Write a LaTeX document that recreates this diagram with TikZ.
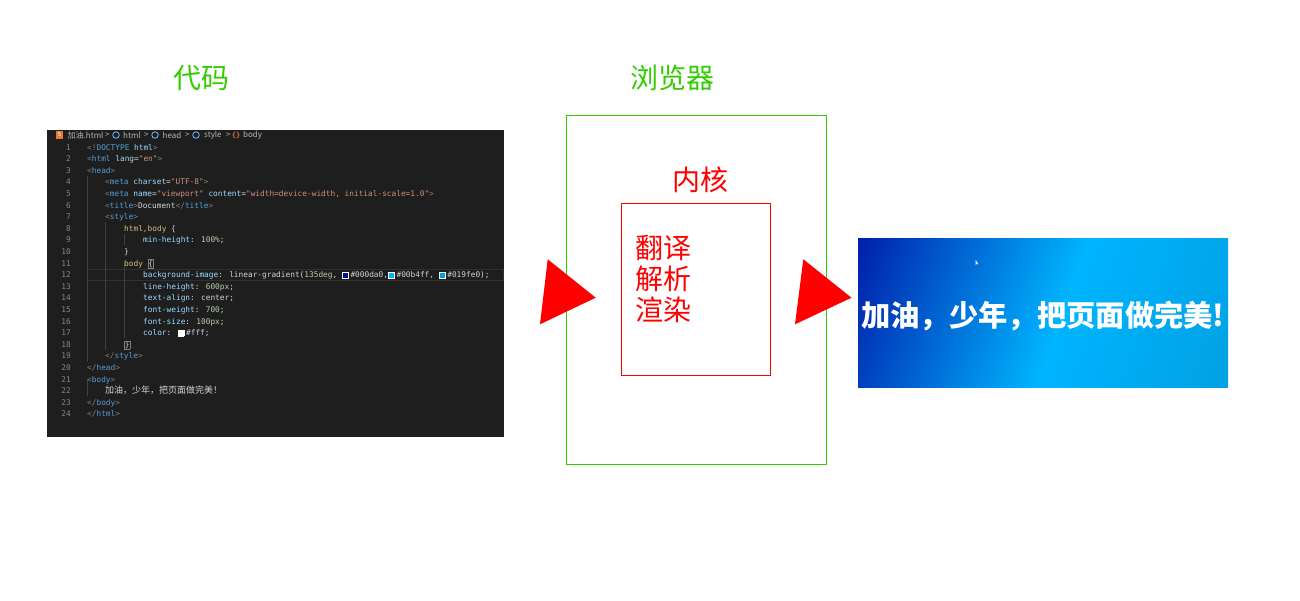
\documentclass[tikz,border=0pt]{standalone}
\usepackage{fontspec}
\setmainfont{Liberation Sans}
\newfontfamily\cjk{Noto Sans CJK SC}
\newfontfamily\codefont{DejaVu Sans Mono}
\definecolor{cgreen}{HTML}{33CC00}
\definecolor{cred}{HTML}{FF0000}
\definecolor{cbg}{HTML}{1E1E1E}
\definecolor{cpun}{HTML}{808080}
\definecolor{ctag}{HTML}{569CD6}
\definecolor{catt}{HTML}{9CDCFE}
\definecolor{cstr}{HTML}{CE9178}
\definecolor{ctxt}{HTML}{D4D4D4}
\definecolor{csel}{HTML}{D7BA7D}
\definecolor{cnum}{HTML}{B5CEA8}
\definecolor{clnum}{HTML}{858585}
\definecolor{cguide}{HTML}{404040}
\definecolor{chl}{HTML}{303030}
\definecolor{cicon}{HTML}{75BEFF}
\definecolor{corange}{HTML}{E37933}
\definecolor{c000da0}{HTML}{000DA0}
\definecolor{c00b4ff}{HTML}{00B4FF}
\definecolor{c019fe0}{HTML}{019FE0}
\pgfdeclarehorizontalshading{resgrad}{100bp}{color(0bp)=(c000da0); color(14bp)=(c000da0); color(52.8bp)=(c00b4ff); color(85bp)=(c019fe0); color(100bp)=(c019fe0)}
\newcommand\kPun[1]{\textcolor{cpun}{#1}}
\newcommand\kTag[1]{\textcolor{ctag}{#1}}
\newcommand\kAtt[1]{\textcolor{catt}{#1}}
\newcommand\kStr[1]{\textcolor{cstr}{#1}}
\newcommand\kTxt[1]{\textcolor{ctxt}{#1}}
\newcommand\kSel[1]{\textcolor{csel}{#1}}
\newcommand\kNum[1]{\textcolor{cnum}{#1}}
\newcommand\swatch[1]{{\setlength\fboxsep{0pt}\setlength\fboxrule{0.6pt}\fcolorbox{white}{#1}{\rule{0pt}{5.5pt}\hspace{5.5pt}}}\hspace{1.8pt}}
\newcommand\LY[1]{150+(#1-1)*11.6}
\tikzset{
  title/.style={font=\cjk\fontsize{28}{30}\selectfont, text=cgreen, inner sep=0},
  redtext/.style={font=\cjk\fontsize{28}{31}\selectfont, text=cred, inner sep=0},
  code/.style={font=\codefont\fontsize{7.8}{9}\selectfont, inner sep=0, anchor=base west},
  lnum/.style={font=\codefont\fontsize{7.8}{9}\selectfont, inner sep=0, anchor=base east, text=clnum},
  crumb/.style={font=\cjk\fontsize{8}{9}\selectfont, inner sep=0, text=ctxt!85!black, anchor=west},
  guide/.style={draw=cguide, line width=0.7pt},
  cube/.style={draw=cicon, line width=0.8pt, circle, inner sep=0, minimum size=6.5},
  box/.style={draw, line width=1pt, inner sep=0, outer sep=0, fill=none},
}
\begin{document}
\begin{tikzpicture}[x=1pt,y=-1pt]
\useasboundingbox (0,0) rectangle (1300,600);
% titles
\node[title] (tcode) at (201,78) {代码};
\node[title] (tbrowser) at (672,78) {浏览器};
% code panel
\node[fill=cbg, inner sep=0, outer sep=0, minimum width=457, minimum height=307] (codepanel) at (275.5,283.5) {};
\draw[draw=chl, line width=0.8pt] (87,269) rectangle (503.5,280.2);
% indent guides
\draw[guide] (87,176) -- (87,361.6);
\draw[guide] (105,222.2) -- (105,350);
\draw[guide] (124,233.8) -- (124,245.4);
\draw[guide] (124,263.4) -- (124,338.2);
\draw[guide] (87,379.8) -- (87,396);
% breadcrumb
\node[fill=corange, inner sep=0, minimum width=6.5, minimum height=7.5, font=\codefont\fontsize{5.5}{6}\selectfont, text=white] (h5) at (59.5,135) {5};
\node[crumb] (b1) at (67.5,135) {加油.html};
\node[crumb] (g1) at (105,135) {>};
\node[cube] (i1) at (116,135) {};
\node[crumb] (b2) at (123,135) {html};
\node[crumb] (g2) at (144,135) {>};
\node[cube] (i2) at (155,135) {};
\node[crumb] (b3) at (162.5,135) {head};
\node[crumb] (g3) at (185,135) {>};
\node[cube] (i3) at (196,135) {};
\node[crumb] (b4) at (204,135) {style};
\node[crumb] (g4) at (226,135) {>};
\node[font=\codefont\fontsize{7}{8}\selectfont\bfseries, text=corange, inner sep=0] (i4) at (236,135) {\{\}};
\node[crumb] (b5) at (243,135) {body};
% line numbers
\foreach \n in {1,...,24} \node[lnum] (ln\n) at (71,{\LY{\n}}) {\n};
% code lines
\node[code] (c1) at (87,{\LY{1}}) {\kPun{<!}\kTag{DOCTYPE} \kAtt{html}\kPun{>}};
\node[code] (c2) at (87,{\LY{2}}) {\kPun{<}\kTag{html} \kAtt{lang}\kTxt{=}\kStr{"en"}\kPun{>}};
\node[code] (c3) at (87,{\LY{3}}) {\kPun{<}\kTag{head}\kPun{>}};
\node[code] (c4) at (105,{\LY{4}}) {\kPun{<}\kTag{meta} \kAtt{charset}\kTxt{=}\kStr{"UTF-8"}\kPun{>}};
\node[code] (c5) at (105,{\LY{5}}) {\kPun{<}\kTag{meta} \kAtt{name}\kTxt{=}\kStr{"viewport"} \kAtt{content}\kTxt{=}\kStr{"width=device-width, initial-scale=1.0"}\kPun{>}};
\node[code] (c6) at (105,{\LY{6}}) {\kPun{<}\kTag{title}\kPun{>}\kTxt{Document}\kPun{</}\kTag{title}\kPun{>}};
\node[code] (c7) at (105,{\LY{7}}) {\kPun{<}\kTag{style}\kPun{>}};
\node[code] (c8) at (124,{\LY{8}}) {\kSel{html,body} \kTxt{\{}};
\node[code] (c9) at (143,{\LY{9}}) {\kAtt{min-height}\kTxt{:} \kNum{100\%}\kTxt{;}};
\node[code] (c10) at (124,{\LY{10}}) {\kTxt{\}}};
\node[code] (c11) at (124,{\LY{11}}) {\kSel{body} {\setlength\fboxsep{0.3pt}\setlength\fboxrule{0.4pt}\fcolorbox{cpun}{cbg}{\kTxt{\{}}}};
\node[code] (c12) at (143,{\LY{12}}) {\kAtt{background-image}\kTxt{: linear-gradient(}\kNum{135deg}\kTxt{, }\swatch{c000da0}\kTxt{\#000da0,}\swatch{c00b4ff}\kTxt{\#00b4ff, }\swatch{c019fe0}\kTxt{\#019fe0);}};
\node[code] (c13) at (143,{\LY{13}}) {\kAtt{line-height}\kTxt{:} \kNum{600px}\kTxt{;}};
\node[code] (c14) at (143,{\LY{14}}) {\kAtt{text-align}\kTxt{:} \kTxt{center}\kTxt{;}};
\node[code] (c15) at (143,{\LY{15}}) {\kAtt{font-weight}\kTxt{:} \kNum{700}\kTxt{;}};
\node[code] (c16) at (143,{\LY{16}}) {\kAtt{font-size}\kTxt{:} \kNum{100px}\kTxt{;}};
\node[code] (c17) at (143,{\LY{17}}) {\kAtt{color}\kTxt{:} \swatch{white}\kTxt{\#fff;}};
\node[code] (c18) at (124,{\LY{18}}) {{\setlength\fboxsep{0.3pt}\setlength\fboxrule{0.4pt}\fcolorbox{cpun}{cbg}{\kTxt{\}}}}};
\node[code] (c19) at (105,{\LY{19}}) {\kPun{</}\kTag{style}\kPun{>}};
\node[code] (c20) at (87,{\LY{20}}) {\kPun{</}\kTag{head}\kPun{>}};
\node[code] (c21) at (87,{\LY{21}}) {\kPun{<}\kTag{body}\kPun{>}};
\node[code, font=\cjk\fontsize{9}{10}\selectfont, text=ctxt] (c22) at (105,{\LY{22}}) {加油，少年，把页面做完美！};
\node[code] (c23) at (87,{\LY{23}}) {\kPun{</}\kTag{body}\kPun{>}};
\node[code] (c24) at (87,{\LY{24}}) {\kPun{</}\kTag{html}\kPun{>}};
% browser
\node[box, draw=cgreen, minimum width=260, minimum height=349] (browser) at (696,289.5) {};
\node[redtext] (tkernel) at (700,180) {内核};
\node[box, draw=cred, minimum width=149, minimum height=172] (kernel) at (695.5,289) {};
\node[redtext, align=left, anchor=west] (steps) at (635.5,279) {翻译\\解析\\渲染};
% arrows (triangles)
\fill[cred] (547.7,259.3) -- (540,324.3) -- (595.7,297.7) -- cycle;
\fill[cred] (803.3,259.3) -- (795,324.3) -- (851.5,297.7) -- cycle;
% result
\node[inner sep=0, outer sep=0, minimum width=370, minimum height=149, shading=resgrad, shading angle=-19.4] (result) at (1043,312.5) {};
\node[font=\cjk\bfseries\fontsize{29.3}{31}\selectfont, text=white, inner sep=0] (rtext) at (1043,316) {加油，少年，把页面做完美!};
\fill[white!85!gray] (975.5,259.5) -- (975.5,265) -- (977,263.8) -- (978.5,264.5) -- cycle;
\end{tikzpicture}
\end{document}
